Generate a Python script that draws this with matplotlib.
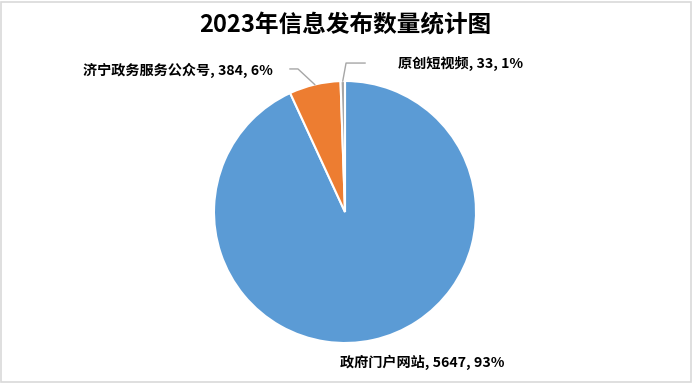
import numpy as np
import matplotlib
matplotlib.use('Agg')
import matplotlib.pyplot as plt
from matplotlib.patches import Rectangle

plt.rcParams['font.family'] = ['Noto Sans CJK SC', 'DejaVu Sans']

# data
categories = ['政府门户网站', '济宁政务服务公众号', '原创短视频']
counts = [5647, 384, 33]
colors = ['#5B9BD5', '#ED7D31', '#A5A5A5']
title = '2023年信息发布数量统计图'

fig = plt.figure(figsize=(6.92, 3.84), dpi=100)
fig.patches.append(Rectangle((0.002, 0.004), 0.996, 0.992, transform=fig.transFigure,
                             fill=False, edgecolor='#D9D9D9', linewidth=1.2))

# pie axes: center (345,212) px, radius 131 px
W, H = 692, 384
cx, cy, r = 345, 212, 131
ax = fig.add_axes([(cx - r) / W, (H - cy - r) / H, 2 * r / W, 2 * r / H])
wedges, _ = ax.pie(counts, colors=colors, startangle=90, counterclock=False, radius=1,
                   wedgeprops=dict(edgecolor='white', linewidth=1.5))
ax.set_xlim(-1, 1)
ax.set_ylim(-1, 1)
ax.set_aspect('auto')
ax.axis('off')

fig.text(cx / W, 1 - 25 / H, title, ha='center', va='center', fontsize=17, fontweight='bold')

total = sum(counts)
labels = ['%s, %d, %d%%' % (c, v, round(v / total * 100)) for c, v in zip(categories, counts)]

def anchor(w):
    a = np.deg2rad((w.theta1 + w.theta2) / 2)
    return np.cos(a), np.sin(a)

# label layout (data units of pie axes): text pos, alignment, leader elbow, leader end
layout = [
    dict(txt=(0.588, -1.145), ha='center', elbow=None, end=None),
    dict(txt=(-0.55, 1.084), ha='right', elbow=(-0.359, 1.092), end=(-0.42, 1.092)),
    dict(txt=(0.405, 1.137), ha='left', elbow=(0.008, 1.137), end=(0.153, 1.137)),
]

for w, lab, lay in zip(wedges, labels, layout):
    ax.text(lay['txt'][0], lay['txt'][1], lab, ha=lay['ha'], va='center',
            fontsize=10.2, fontweight='bold', color='black', clip_on=False)
    if lay['elbow'] is not None:
        x0, y0 = anchor(w)
        ax.plot([x0, lay['elbow'][0], lay['end'][0]], [y0, lay['elbow'][1], lay['end'][1]],
                color='#A6A6A6', linewidth=1, clip_on=False)

fig.savefig('out.png', dpi=100)
